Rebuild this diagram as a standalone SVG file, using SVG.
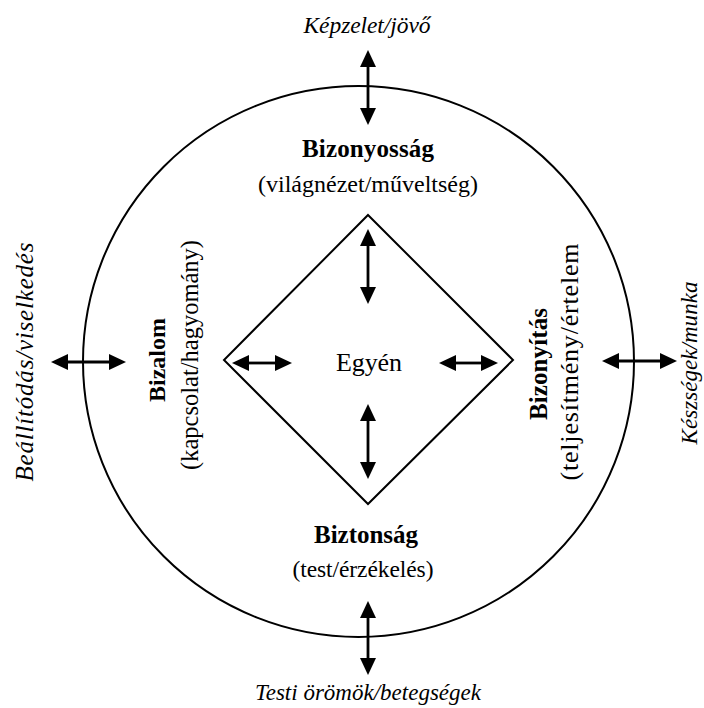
<svg xmlns="http://www.w3.org/2000/svg" width="704" height="708" viewBox="0 0 704 708">
<style>
.shape{fill:none;stroke:#000;stroke-width:2}
.arr{stroke:#000;stroke-width:2.8;fill:none;marker-start:url(#ah);marker-end:url(#ah)}
text{font-family:"Liberation Serif","Times New Roman",serif;fill:#000;font-size:24px;text-anchor:middle}
.b{font-weight:bold}
.i{font-style:italic}
</style>
<defs>
<marker id="ah" markerUnits="userSpaceOnUse" markerWidth="17" markerHeight="16" refX="1" refY="8" orient="auto-start-reverse" viewBox="0 0 17 16">
<path d="M0,0 L17,8 L0,16 z" fill="#000"/>
</marker>
</defs>
<rect width="704" height="708" fill="#fff"/>
<g id="outer-circle"><circle class="shape" cx="358.5" cy="361.5" r="275.5"/></g>
<g id="diamond"><polygon class="shape" points="368,215 513,360 368,504 224,360"/></g>
<g id="egyen"><text x="369" y="371" style="font-size:26px" textLength="66">Egyén</text></g>
<g id="bizonyossag">
<text class="b" x="368" y="157" style="font-size:25px" textLength="132">Bizonyosság</text>
<text x="368" y="192" style="font-size:24px" textLength="220">(világnézet/műveltség)</text>
</g>
<g id="biztonsag">
<text class="b" x="366" y="543" style="font-size:25px" textLength="104">Biztonság</text>
<text x="363" y="577" style="font-size:23.5px" textLength="141">(test/érzékelés)</text>
</g>
<g id="bizalom">
<text class="b" transform="translate(165,360) rotate(-90)" style="font-size:24px" textLength="84">Bizalom</text>
<text transform="translate(198,355) rotate(-90)" style="font-size:24.5px" textLength="230">(kapcsolat/hagyomány)</text>
</g>
<g id="bizonyitas">
<text class="b" transform="translate(547,364) rotate(-90)" style="font-size:25px" textLength="112">Bizonyítás</text>
<text transform="translate(578,362) rotate(-90)" style="font-size:26px" textLength="237">(teljesítmény/értelem</text>
</g>
<g id="kepzelet"><text class="i" x="367" y="33" style="font-size:23.5px" textLength="127">Képzelet/jövő</text></g>
<g id="testi"><text class="i" x="368" y="700" style="font-size:23px" textLength="226">Testi örömök/betegségek</text></g>
<g id="beallitodas"><text class="i" transform="translate(33,362) rotate(-90)" style="font-size:25px" textLength="239">Beállítódás/viselkedés</text></g>
<g id="keszsegek"><text class="i" transform="translate(697,363) rotate(-90)" style="font-size:23px" textLength="163">Készségek/munka</text></g>
<g id="connectors">
<line class="arr" x1="368" y1="66" x2="368" y2="109"/>
<line class="arr" x1="368" y1="617" x2="368" y2="659"/>
<line class="arr" x1="67" y1="362" x2="110" y2="362"/>
<line class="arr" x1="618" y1="361" x2="661" y2="361"/>
<line class="arr" x1="368" y1="245" x2="368" y2="288"/>
<line class="arr" x1="368" y1="420" x2="368" y2="463"/>
<line class="arr" x1="248" y1="363" x2="276" y2="363"/>
<line class="arr" x1="455" y1="363" x2="482" y2="363"/>
</g>
</svg>
